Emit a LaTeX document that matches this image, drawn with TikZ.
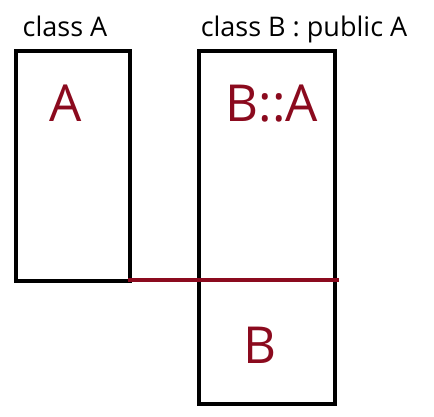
\documentclass[tikz,border=0pt]{standalone}
\usepackage{fontspec}
\setmainfont{Open Sans}
\usepackage{tikz}
\usetikzlibrary{positioning,calc}
\definecolor{MemRed}{RGB}{139,10,30}

\begin{document}
\begin{tikzpicture}[x=1pt,y=-1pt,
    objbox/.style={draw=black, line width=4pt, inner sep=0pt, outer sep=0pt},
    classlbl/.style={anchor=base, font=\fontsize{27}{32}\selectfont},
    memlbl/.style={anchor=base, text=MemRed, font=\fontsize{51}{60}\selectfont}]
  \useasboundingbox (0,0) rectangle (434,417);
  % the two objects
  \node[objbox, minimum width=114pt, minimum height=230pt] (objA) at (73,166) {};
  \node[objbox, minimum width=136pt, minimum height=353pt] (objB) at (267,227.5) {};
  \node[classlbl] (lblA) at (65,37) {class A};
  \node[classlbl] (lblB) at (304,37) {class B : public A};
  \node[memlbl] (partA) at (66,122) {A};
  \node[memlbl] (partBA) at (272,122) {B::A};
  \node[memlbl] (partB) at (260,363) {B};
  % boundary of the base part
  \coordinate (divend) at (339,280);
  \draw[MemRed, line width=4pt] ($(objA.south east)+(-2,-1)$) -- (divend);
\end{tikzpicture}
\end{document}
